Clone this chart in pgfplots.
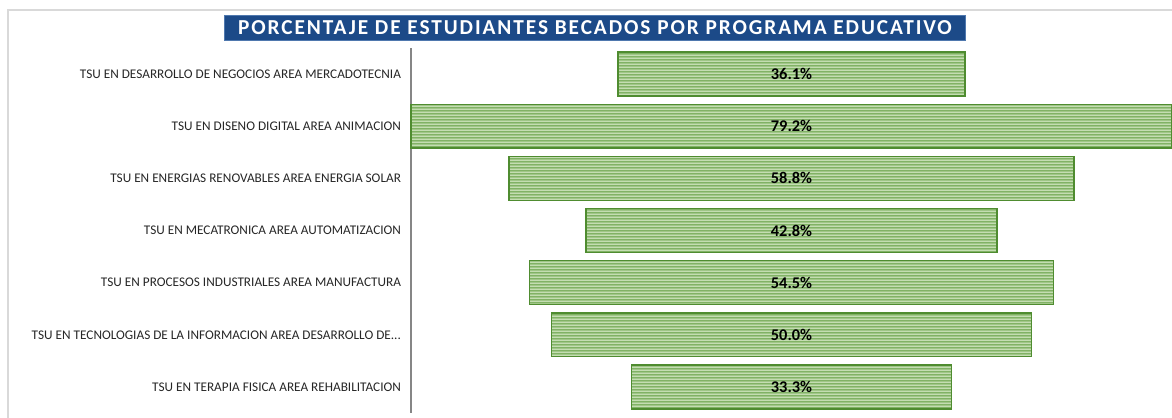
\documentclass[border=0pt]{standalone}
\usepackage{fontspec}
\setmainfont{Carlito}
\newfontfamily\titlefont[LetterSpace=9]{Carlito}
\usepackage{pgfplots}
\pgfplotsset{compat=1.18}
\usepackage{pgfplotstable}
\usetikzlibrary{patterns.meta}
\definecolor{barfill}{HTML}{C4DDB2}
\definecolor{barstripe}{HTML}{5E9C3C}
\definecolor{baredge}{HTML}{4F8C30}
\definecolor{titleblue}{HTML}{1C4A88}
\definecolor{titleedge}{HTML}{4F78AE}
\definecolor{framegray}{HTML}{D9D9D9}
\definecolor{axisgray}{HTML}{868686}
\definecolor{labelgray}{HTML}{262626}

\pgfdeclarepattern{name=hstripes, type=uncolored,
  bottom left={\pgfpoint{0pt}{0pt}}, top right={\pgfpoint{20bp}{1.5bp}},
  tile size={\pgfpoint{20bp}{1.5bp}},
  code={\pgfsetlinewidth{0.6bp}\pgfpathmoveto{\pgfpoint{-1bp}{0.75bp}}\pgfpathlineto{\pgfpoint{21bp}{0.75bp}}\pgfusepath{stroke}}}

\pgfplotstableread{
idx offset val center
0 21.55 36.1 39.6
1 0.00 79.2 39.6
2 10.20 58.8 39.6
3 18.20 42.8 39.6
4 12.35 54.5 39.6
5 14.60 50.0 39.6
6 22.95 33.3 39.6
}\datatable

\begin{document}
\begin{tikzpicture}[x=1bp,y=1bp]
\useasboundingbox (0,0) rectangle (586,208.5);
\draw[framegray, line width=0.6bp] (4,-2) -- (4,203.5) -- (590,203.5);
\node[fill=titleblue, draw=titleedge, line width=0.5bp, text=white, minimum width=370bp, minimum height=12bp, inner sep=0pt] at (297.5,194.5)
  {\titlefont\bfseries\fontsize{10.7}{12}\selectfont PORCENTAJE DE ESTUDIANTES BECADOS POR PROGRAMA EDUCATIVO};
\begin{axis}[
  at={(205.5bp,2bp)}, anchor=south west,
  scale only axis, width=380.5bp, height=182.5bp,
  xbar stacked, bar width=0.84,
  xmin=0, xmax=79.2, ymin=-0.5, ymax=6.5, y dir=reverse,
  ytick={0,1,2,3,4,5,6},
  yticklabels={{TSU EN DESARROLLO DE NEGOCIOS AREA MERCADOTECNIA},
    {TSU EN DISENO DIGITAL AREA ANIMACION},
    {TSU EN ENERGIAS RENOVABLES AREA ENERGIA SOLAR},
    {TSU EN MECATRONICA AREA AUTOMATIZACION},
    {TSU EN PROCESOS INDUSTRIALES AREA MANUFACTURA},
    {TSU EN TECNOLOGIAS DE LA INFORMACION AREA DESARROLLO DE.{}.{}.},
    {TSU EN TERAPIA FISICA AREA REHABILITACION}},
  axis x line=none, axis y line*=left,
  y axis line style={axisgray, line width=1bp, -},
  ytick style={draw=none},
  yticklabel style={font=\fontsize{6.65}{7.5}\selectfont, text=labelgray, xshift=-1.5bp},
  clip=false,
]
\addplot[draw=none, fill=none] table[x=offset, y=idx] {\datatable};
\addplot[fill=barfill, draw=baredge, line width=0.7bp,
  postaction={pattern=hstripes, pattern color=barstripe}] table[x=val, y=idx] {\datatable};
\end{axis}
\begin{axis}[
  at={(205.5bp,2bp)}, anchor=south west,
  scale only axis, width=380.5bp, height=182.5bp,
  xmin=0, xmax=79.2, ymin=-0.5, ymax=6.5, y dir=reverse,
  hide axis, clip=false,
]
\addplot[draw=none, mark=none, point meta=explicit,
  nodes near coords={\pgfmathprintnumber[assume math mode=true, fixed, fixed zerofill, precision=1]{\pgfplotspointmeta}\%},
  every node near coord/.append style={anchor=center, font=\bfseries\fontsize{8.2}{9}\selectfont, text=black}]
  table[x=center, y=idx, meta=val] {\datatable};
\end{axis}
\end{tikzpicture}
\end{document}
